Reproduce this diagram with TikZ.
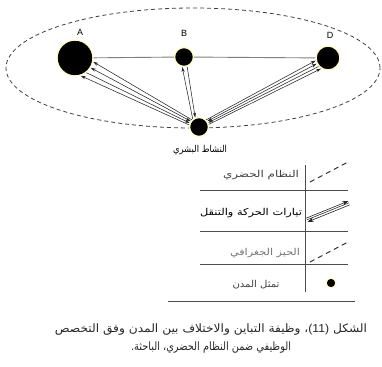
\documentclass[tikz,border=0pt]{standalone}
\usepackage{fontspec}
\usetikzlibrary{calc,arrows.meta}
\newfontfamily\arabicfont[Script=Arabic]{DejaVu Sans}
\newfontfamily\latinfont{Liberation Sans}
\TeXXeTstate=1
\newcommand{\fitw}[2]{\resizebox{#1}{\height}{#2}}
\begin{document}
\begin{tikzpicture}[x=1pt,y=-1pt,
  city/.style={circle,fill=black,draw=yellow!22,line width=1.4pt,inner sep=0pt,outer sep=0.7pt},
  flow/.style={draw=black!85,line width=0.55pt,-{Stealth[length=5pt,width=3.2pt]}},
  flowb/.style={draw=black!85,line width=0.55pt,{Stealth[length=5pt,width=3.2pt]}-{Stealth[length=5pt,width=3.2pt]}},
  legflow/.style={draw=black!85,line width=0.6pt,-{Stealth[length=6pt,width=4.5pt]}},
  citylabel/.style={font=\latinfont\fontsize{9}{10}\selectfont,inner sep=0pt},
  legtext/.style={font=\arabicfont\fontsize{9.5}{11}\selectfont,text=black!75,inner sep=0pt},
  captext/.style={font=\arabicfont\fontsize{11.5}{13}\selectfont,text=black!85,inner sep=0pt},
  rule/.style={draw=black!70,line width=0.6pt},
  legdash/.style={draw=black!80,line width=1pt,dash pattern=on 5pt off 4pt}
]
\useasboundingbox (0,0) rectangle (382,366);

% urban system ellipse
\draw[black!75,line width=0.8pt,dash pattern=on 4pt off 3pt] (193,68) ellipse [x radius=187pt,y radius=60pt];

% cities
\node[city,minimum size=36pt] (A) at (75,58) {};
\node[city,minimum size=19pt] (B) at (184,57) {};
\node[city,minimum size=24pt] (D) at (328,58) {};
\node[city,minimum size=19pt] (H) at (199,127) {};

\node[citylabel] (la) at (80,32) {A};
\node[citylabel] (lb) at (184,33) {B};
\node[citylabel] (ld) at (330,35) {D};
\node[legtext,text=black] (lh) at (200,150) {\fitw{54pt}{\beginR النشاط البشري\endR}};

% line between cities
\draw[gray,line width=0.9pt] (A) -- (B);
\draw[gray,line width=0.9pt] (B) -- (D);

% flows H - A
\draw[flow] (H.135) -- (A.-12);
\draw[flowb] (H.145) -- (A.-32);
\draw[flow] (A.-52) -- (H.157);
\draw[flow] (H.168) -- (A.-72);

% flows H - B
\draw[flow] (H.128) -- (B.-100);
\draw[flow] (B.-72) -- (H.112);

% flows H - D
\draw[flow] (H.45) -- (D.192);
\draw[flowb] (H.35) -- (D.207);
\draw[flow] (D.222) -- (H.25);
\draw[flow] (H.15) -- (D.237);

% legend
\draw[rule] (305,165) -- (305,292);
\draw[rule] (200,190) -- (348,190);
\draw[rule] (200,231) -- (348,231);
\draw[rule] (200,264) -- (348,264);
\draw[rule] (168,301) -- (355,301);

\node[legtext] (t1) at (261,175) {\fitw{76pt}{\beginR النظام الحضري\endR}};
\node[legtext,text=black] (t2) at (251,213) {\fitw{102pt}{\beginR تيارات الحركة والتنقل\endR}};
\node[legtext,text=black!55] (t3) at (265,253) {\fitw{70pt}{\beginR الحيز الجغرافي\endR}};
\node[legtext] (t4) at (256,285) {\fitw{47pt}{\beginR تمثل المدن\endR}};

\draw[legdash] (310,182) -- (348,162);
\coordinate (s1) at (307,220);
\coordinate (s2) at (349,203);
\draw[legflow] ($(s1)!2pt!90:(s2)$) -- ($(s2)!2pt!-90:(s1)$);
\draw[draw=black!85,line width=0.55pt] ($(s1)!0.2pt!90:(s2)$) -- ($(s2)!0.2pt!-90:(s1)$);
\draw[legflow] ($(s2)!2pt!90:(s1)$) -- ($(s1)!2pt!-90:(s2)$);
\draw[legdash] (310,262) -- (348,242);
\node[city,minimum size=10pt] (dot) at (331,283) {};

% caption
\node[captext] (c1) at (211,330) {\fitw{312pt}{\beginR الشكل {\latinfont\beginL(11)\endL}، وظيفة التباين والاختلاف بين المدن وفق التخصص\endR}};
\node[captext] (c2) at (211,348) {\fitw{160pt}{\beginR الوظيفي ضمن النظام الحضري، الباحثة.\endR}};
\end{tikzpicture}
\end{document}
